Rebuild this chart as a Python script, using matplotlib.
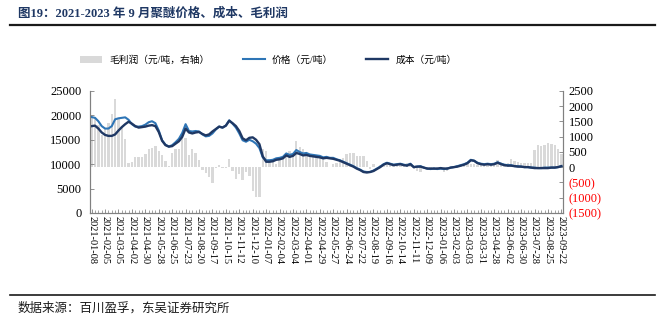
import numpy as np
import pandas as pd
import matplotlib
matplotlib.use("Agg")
import matplotlib.pyplot as plt
from matplotlib.ticker import FuncFormatter

plt.rcParams['font.family'] = ['Liberation Serif', 'Noto Sans CJK SC']

# weekly dates, 2023-05-05 has no data
dates = pd.date_range("2021-01-08", "2023-09-22", freq="7D")
dates = dates[dates != pd.Timestamp("2023-05-05")]
labels = [d.strftime("%Y-%m-%d") for d in dates]

price = [
    19650, 19500, 18800, 17800, 17300, 17300, 17800, 19200, 19400, 19500,
    19600, 19100, 18200, 17700, 17700, 17800, 18100, 18600, 18800, 18400,
    16900, 14900, 14000, 13600, 13900, 14500, 15200, 16400, 18200, 16800,
    16700, 16800, 16700, 16100, 15700, 15800, 16300, 17100, 17700, 17500,
    17900, 19000, 18300, 17500, 16300, 14900, 14600, 15000, 14700, 14200,
    13300, 11400, 10800, 10800, 10900, 11200, 11300, 11500, 12200, 11900,
    12100, 12900, 12500, 12200, 12300, 12000, 11900, 11800, 11700, 11400,
    11500, 11300, 11300, 11000, 10800, 10500, 10200, 9900, 9600, 9200,
    8900, 8500, 8400, 8400, 8700, 9100, 9500, 10000, 10300, 10100,
    9900, 10000, 10100, 9900, 9800, 10100, 9400, 9500, 9600, 9300,
    9100, 9000, 9100, 9000, 9100, 9000, 9100, 9300, 9400, 9600,
    9800, 10000, 10300, 10900, 10700, 10300, 10100, 10000, 10100, 10000,
    10100, 10400, 10100, 9900, 9800, 9800, 9600, 9600, 9500, 9400,
    9400, 9300, 9300, 9200, 9200, 9300, 9300, 9300, 9300, 9400,
    9600,
]

cost = [
    17800, 17900, 17300, 16500, 16000, 15800, 15800, 16100, 16900, 17600,
    18200, 18700, 18300, 17800, 17500, 17600, 17700, 17900, 18000, 17800,
    16600, 14800, 13900, 13600, 13700, 14200, 14700, 15600, 17300, 16500,
    16300, 16500, 16600, 16200, 15900, 16100, 16700, 17200, 17700, 17500,
    17900, 18900, 18400, 17800, 16800, 15300, 14900, 15400, 15500, 15000,
    14100, 11600, 10500, 10500, 10600, 10900, 11000, 11200, 11800, 11500,
    11700, 12300, 12100, 11800, 11900, 11700, 11600, 11500, 11400, 11200,
    11300, 11200, 11100, 10900, 10700, 10400, 10100, 9800, 9500, 9100,
    8800, 8400, 8300, 8400, 8600, 9000, 9400, 9900, 10200, 10000,
    9800, 9900, 10000, 9800, 9700, 10000, 9400, 9500, 9500, 9300,
    9100, 9100, 9100, 9100, 9200, 9100, 9100, 9300, 9400, 9500,
    9700, 9900, 10200, 10800, 10700, 10200, 10000, 9900, 10000, 9900,
    10000, 10300, 10000, 9800, 9700, 9700, 9600, 9500, 9500, 9400,
    9400, 9300, 9200, 9200, 9200, 9200, 9200, 9300, 9300, 9400,
    9600,
]

profit = [
    1720, 1610, 1400, 1070, 1250, 1450, 1740, 2250, 1610, 1290,
    940, 150, 170, 335, 335, 335, 450, 585, 640, 690,
    530, 390, 200, 40, 475, 605, 585, 1070, 960, 390,
    605, 475, 230, -100, -205, -315, -530, -30, 65, -30,
    -40, 260, -120, -390, -230, -420, -170, -280, -770, -985,
    -985, 585, 530, 260, 205, 100, 260, 370, 420, 530,
    475, 855, 660, 585, 475, 420, 400, 370, 340, 260,
    180, 10, 120, 150, 200, 310, 420, 475, 475, 370,
    370, 370, 200, -65, 100, 0, 60, 120, 150, 100,
    60, 80, 140, 120, 150, 110, -60, -120, -150, -40,
    -30, -60, -80, -50, -100, -140, -120, -20, 30, 60,
    50, 90, 110, 120, 100, 80, 60, 70, 90, 110,
    150, 225, 180, 120, 140, 260, 200, 180, 150, 150,
    150, 150, 560, 715, 700, 715, 800, 760, 715, 600,
    420,
]

x = np.arange(len(labels))

fig = plt.figure(figsize=(6.64, 3.23), dpi=100)
ax = fig.add_axes([0.1355, 0.3406, 0.7125, 0.3777])
ax2 = ax.twinx()

bars = ax2.bar(x, profit, width=0.7, color='#D9D9D9', label='毛利润（元/吨，右轴）')
l1, = ax.plot(x, price, color='#2E75B6', lw=1.5, label='价格（元/吨）')
l2, = ax.plot(x, cost, color='#1F3864', lw=1.7, label='成本（元/吨）')

# lines above the bars
ax.set_zorder(ax2.get_zorder() + 1)
ax.patch.set_visible(False)

ax.set_xlim(-0.5, len(x) - 0.5)
ax.set_ylim(0, 25000)
ax.set_yticks(np.arange(0, 25001, 5000))
ax2.set_ylim(-1500, 2500)
ax2.set_yticks(np.arange(-1500, 2501, 500))

ax.set_xticks(x[::4])
ax.set_xticklabels(labels[::4], rotation=-90, fontsize=7.5)
ax.set_xticks(x, minor=True)

def right_fmt(v, pos):
    return f"({abs(int(v))})" if v < 0 else f"{int(v)}"

ax2.yaxis.set_major_formatter(FuncFormatter(right_fmt))
for t, v in zip(ax2.get_yticklabels(), ax2.get_yticks()):
    if v < 0:
        t.set_color('red')

for a in (ax, ax2):
    a.tick_params(direction='in', length=3, width=0.6, color='#808080', labelsize=9)
    a.tick_params(which='minor', direction='in', length=2, width=0.5, color='#808080')
    a.spines['top'].set_visible(False)
    for s in ('left', 'right', 'bottom'):
        a.spines[s].set_color('#808080')
        a.spines[s].set_linewidth(0.8)
ax.tick_params(axis='x', labelsize=7.5, pad=2)
ax.tick_params(axis='y', pad=6)
ax2.tick_params(axis='y', pad=4)

fig.legend(handles=[bars, l1, l2], loc='center', bbox_to_anchor=(0.404, 0.814),
           ncol=3, frameon=False, handlelength=2.3, handletextpad=0.7,
           columnspacing=3.4,
           prop={'family': ['Liberation Serif', 'Noto Sans CJK SC'], 'size': 7})

fig.text(0.027, 0.958, '图19：2021-2023 年 9 月聚醚价格、成本、毛利润', fontsize=9,
         fontweight='bold', color='#1F3864', va='center', ha='left')
fig.add_artist(plt.Line2D([0.015, 0.986], [0.923, 0.923], color='#1a1a1a', lw=1.6))
fig.add_artist(plt.Line2D([0.015, 0.986], [0.087, 0.087], color='#1a1a1a', lw=1.2))
fig.text(0.026, 0.045, '数据来源：百川盈孚，东吴证券研究所', fontsize=9,
         va='center', ha='left', color='#1a1a1a')

fig.savefig('out.png', dpi=100)
